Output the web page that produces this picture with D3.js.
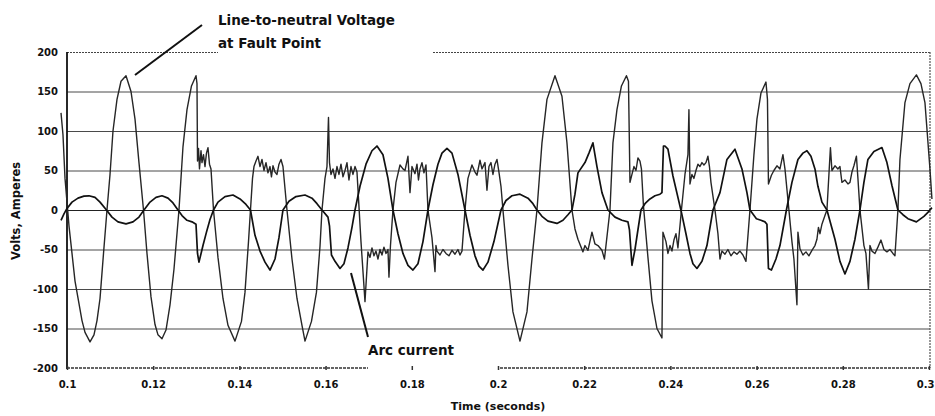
<!DOCTYPE html>
<html>
<head>
<meta charset="utf-8">
<script src="https://cdnjs.cloudflare.com/ajax/libs/d3/7.8.5/d3.min.js"></script>
<style>
  body { margin: 0; background: #fff; }
  svg { display: block; font-family: "DejaVu Sans", sans-serif; font-weight: bold; }
</style>
</head>
<body>
<svg width="935" height="416"></svg>
<script>
// line-to-neutral voltage at fault point: [time (s), volts]
const voltage = [
  [0.09861, 123], [0.09907, 95], [0.09954, 40], [0.10000, 10], [0.10046, -20],
  [0.10116, -55], [0.10186, -90], [0.10267, -115], [0.10348, -140], [0.10418, -155],
  [0.10534, -167], [0.10626, -158], [0.10696, -140], [0.10766, -112], [0.10847, -55],
  [0.10928, 0], [0.10998, 45], [0.11067, 100], [0.11160, 140], [0.11253, 163],
  [0.11369, 170], [0.11485, 150], [0.11578, 115], [0.11670, 60], [0.11775, 0],
  [0.11856, -55], [0.11949, -110], [0.12042, -145], [0.12111, -158], [0.12204, -163],
  [0.12297, -152], [0.12390, -120], [0.12482, -75], [0.12598, 0], [0.12691, 80],
  [0.12784, 127], [0.12888, 157], [0.12993, 170], [0.13016, 160], [0.13028, 62],
  [0.13051, 78], [0.13074, 52], [0.13109, 75], [0.13132, 60], [0.13167, 70],
  [0.13202, 55], [0.13236, 72], [0.13271, 79], [0.13306, 58], [0.13341, 52],
  [0.13399, 0], [0.13503, -60], [0.13619, -112], [0.13735, -146], [0.13898, -166],
  [0.14048, -141], [0.14130, -104], [0.14211, -40], [0.14257, 0], [0.14304, 40],
  [0.14338, 55], [0.14385, 62], [0.14431, 68], [0.14478, 55], [0.14524, 64],
  [0.14570, 50], [0.14617, 60], [0.14663, 47], [0.14710, 55], [0.14744, 42],
  [0.14779, 56], [0.14826, 48], [0.14872, 45], [0.14918, 58], [0.14965, 64],
  [0.15011, 55], [0.15104, 0], [0.15220, -62], [0.15336, -112], [0.15452, -146],
  [0.15522, -166], [0.15672, -141], [0.15788, -104], [0.15870, -46], [0.15916, 0],
  [0.15986, 40], [0.16032, 55], [0.16067, 117], [0.16090, 60], [0.16125, 45],
  [0.16171, 52], [0.16218, 40], [0.16264, 55], [0.16310, 45], [0.16357, 58],
  [0.16403, 42], [0.16450, 50], [0.16496, 60], [0.16542, 38], [0.16589, 55],
  [0.16635, 45], [0.16682, 55], [0.16728, 48], [0.16821, -40], [0.16914, -116],
  [0.16983, -53], [0.17030, -60], [0.17076, -48], [0.17122, -58], [0.17169, -52],
  [0.17215, -62], [0.17262, -50], [0.17308, -57], [0.17354, -47], [0.17401, -55],
  [0.17447, -50], [0.17470, -85], [0.17505, -45], [0.17563, 0], [0.17633, 35],
  [0.17726, 57], [0.17795, 52], [0.17842, 50], [0.17911, 68], [0.17958, 22],
  [0.18004, 55], [0.18074, 46], [0.18120, 58], [0.18155, 38], [0.18190, 52],
  [0.18236, 60], [0.18282, 47], [0.18329, 57], [0.18375, 0], [0.18468, -35],
  [0.18538, -78], [0.18561, -45], [0.18584, -52], [0.18654, -57], [0.18723, -50],
  [0.18793, -55], [0.18862, -58], [0.18932, -51], [0.19002, -56], [0.19071, -50],
  [0.19118, -57], [0.19164, -52], [0.19234, 0], [0.19303, 40], [0.19396, 57],
  [0.19466, 48], [0.19512, 44], [0.19582, 63], [0.19628, 52], [0.19698, 60],
  [0.19744, 25], [0.19790, 55], [0.19837, 60], [0.19883, 45], [0.19930, 58],
  [0.19976, 64], [0.20022, 48], [0.20069, 30], [0.20115, 0], [0.20231, -70],
  [0.20347, -129], [0.20510, -166], [0.20672, -129], [0.20788, -62], [0.20904, 0],
  [0.21020, 85], [0.21136, 140], [0.21322, 170], [0.21484, 144], [0.21600, 85],
  [0.21716, 0], [0.21786, -24], [0.21855, -37], [0.21971, -53], [0.22018, -45],
  [0.22087, -51], [0.22180, -28], [0.22250, -43], [0.22319, -45], [0.22412, -51],
  [0.22470, -62], [0.22598, 0], [0.22667, 85], [0.22760, 127], [0.22864, 157],
  [0.22980, 170], [0.23027, 163], [0.23062, 35], [0.23108, 45], [0.23154, 55],
  [0.23201, 50], [0.23247, 66], [0.23294, 62], [0.23328, 52], [0.23375, 5],
  [0.23479, -60], [0.23572, -115], [0.23688, -150], [0.23804, -162], [0.23827, -28],
  [0.23897, -40], [0.23943, -55], [0.23990, -45], [0.24036, -52], [0.24082, -38],
  [0.24129, -30], [0.24175, -48], [0.24256, 0], [0.24338, 45], [0.24407, 70],
  [0.24430, 127], [0.24454, 33], [0.24500, 45], [0.24546, 40], [0.24593, 50],
  [0.24639, 58], [0.24686, 55], [0.24732, 60], [0.24778, 57], [0.24825, 60],
  [0.24871, 68], [0.24906, 55], [0.24941, 35], [0.25034, 0], [0.25103, -30],
  [0.25150, -62], [0.25196, -52], [0.25266, -56], [0.25335, -50], [0.25405, -58],
  [0.25474, -53], [0.25544, -56], [0.25614, -52], [0.25683, -57], [0.25753, -65],
  [0.25846, 0], [0.25938, 70], [0.26008, 115], [0.26101, 148], [0.26217, 162],
  [0.26252, 140], [0.26275, 33], [0.26344, 44], [0.26402, 50], [0.26472, 56],
  [0.26542, 52], [0.26611, 70], [0.26658, 52], [0.26750, 0], [0.26820, -40],
  [0.26866, -62], [0.26936, -120], [0.26959, -28], [0.27006, -49], [0.27075, -57],
  [0.27145, -53], [0.27214, -58], [0.27284, -51], [0.27354, -45], [0.27400, -37],
  [0.27435, -22], [0.27470, -30], [0.27516, -18], [0.27586, -7], [0.27632, 0],
  [0.27678, 45], [0.27713, 79], [0.27748, 50], [0.27818, 56], [0.27887, 52],
  [0.27934, 55], [0.27980, 35], [0.28050, 38], [0.28119, 33], [0.28166, 35],
  [0.28212, 48], [0.28258, 56], [0.28316, 68], [0.28351, 40], [0.28398, 0],
  [0.28490, -45], [0.28537, -55], [0.28595, -100], [0.28630, -45], [0.28676, -52],
  [0.28746, -55], [0.28815, -47], [0.28885, -38], [0.28954, -50], [0.29024, -53],
  [0.29094, -50], [0.29163, -55], [0.29210, -58], [0.29279, 0], [0.29326, 64],
  [0.29442, 136], [0.29558, 160], [0.29708, 171], [0.29813, 160], [0.29906, 136],
  [0.30022, 52], [0.30068, 14]
];

// arc current: [time (s), amperes]
const arcCurrent = [
  [0.09861, -13], [0.09930, -5], [0.10000, 2], [0.10116, 10], [0.10255, 15],
  [0.10394, 17.5], [0.10510, 18], [0.10650, 16], [0.10766, 10], [0.10916, 0],
  [0.11044, -9], [0.11183, -15], [0.11369, -17.6], [0.11531, -15], [0.11670, -9],
  [0.11786, 0], [0.11926, 10], [0.12065, 16], [0.12204, 18], [0.12343, 15],
  [0.12459, 9], [0.12575, 0], [0.12668, -7], [0.12784, -13], [0.12900, -15],
  [0.12993, -18], [0.13028, -55], [0.13062, -66], [0.13155, -45], [0.13236, -28],
  [0.13318, -12], [0.13399, 0], [0.13503, 10], [0.13666, 17], [0.13851, 19],
  [0.14014, 14], [0.14153, 7], [0.14257, 0], [0.14362, -32], [0.14478, -52],
  [0.14594, -66], [0.14710, -76], [0.14826, -62], [0.14918, -35], [0.15011, 0],
  [0.15150, 11], [0.15313, 17], [0.15522, 19], [0.15684, 15], [0.15800, 8],
  [0.15916, 0], [0.16055, -9], [0.16090, -20], [0.16136, -57], [0.16218, -65],
  [0.16334, -74], [0.16426, -68], [0.16519, -48], [0.16612, -22], [0.16682, 0],
  [0.16798, 30], [0.16937, 58], [0.17076, 75], [0.17192, 81], [0.17331, 70],
  [0.17447, 40], [0.17563, 0], [0.17679, -30], [0.17795, -55], [0.17911, -70],
  [0.18027, -76], [0.18143, -68], [0.18259, -40], [0.18375, 0], [0.18491, 32],
  [0.18607, 58], [0.18700, 72], [0.18816, 78], [0.18932, 72], [0.19071, 45],
  [0.19234, 0], [0.19350, -32], [0.19466, -58], [0.19558, -71], [0.19651, -76],
  [0.19767, -66], [0.19906, -40], [0.20069, 0], [0.20185, 12], [0.20324, 18],
  [0.20510, 20], [0.20695, 15], [0.20811, 8], [0.20904, 0], [0.21020, -8],
  [0.21159, -14], [0.21368, -17], [0.21507, -13], [0.21623, -6], [0.21716, 0],
  [0.21786, 20], [0.21855, 47], [0.22018, 60], [0.22110, 72], [0.22203, 85],
  [0.22296, 55], [0.22412, 22], [0.22551, 0], [0.22714, -9], [0.22876, -13],
  [0.23015, -15], [0.23050, -25], [0.23108, -70], [0.23178, -50], [0.23247, -25],
  [0.23317, 0], [0.23410, 8], [0.23526, 14], [0.23642, 18], [0.23758, 20],
  [0.23804, 22], [0.23839, 81], [0.23874, 81], [0.23943, 77], [0.24059, 43],
  [0.24256, -3], [0.24361, -30], [0.24454, -55], [0.24523, -68], [0.24616, -74],
  [0.24732, -65], [0.24848, -45], [0.24987, 0], [0.25150, 22], [0.25312, 64],
  [0.25498, 77], [0.25660, 52], [0.25776, 22], [0.25846, 0], [0.25996, -11],
  [0.26101, -13], [0.26194, -15], [0.26240, -18], [0.26275, -74], [0.26344, -76],
  [0.26449, -62], [0.26542, -45], [0.26692, 0], [0.26820, 35], [0.26959, 64],
  [0.27075, 72], [0.27168, 75], [0.27261, 68], [0.27354, 52], [0.27423, 30],
  [0.27516, 10], [0.27632, 0], [0.27818, -37], [0.27934, -65], [0.28050, -81],
  [0.28166, -65], [0.28282, -37], [0.28398, 0], [0.28490, 35], [0.28583, 64],
  [0.28722, 74], [0.28908, 79], [0.29024, 60], [0.29140, 31], [0.29279, 0],
  [0.29395, -6], [0.29511, -11], [0.29708, -15], [0.29882, -8], [0.29975, -3],
  [0.30068, 3]
];

const yTicks = [-200, -150, -100, -50, 0, 50, 100, 150, 200];
const yTickLabels = ["-200", "-150", "-100", "-50", "0", "50", "100", "150", "200"];
const xTicks = [0.1, 0.12, 0.14, 0.16, 0.18, 0.2, 0.22, 0.24, 0.26, 0.28, 0.3];
const xTickLabels = ["0.1", "0.12", "0.14", "0.16", "0.18", "0.2", "0.22", "0.24", "0.26", "0.28", "0.3"];

const svg = d3.select("svg"),
    width = +svg.attr("width"),
    height = +svg.attr("height");
const margin = { top: 52, right: 6, bottom: 48, left: 67 };
const x0 = margin.left, x1 = width - margin.right;
const yTop = margin.top, yBot = height - margin.bottom;

const x = d3.scaleLinear().domain([0.1, 0.3]).range([x0, x1]);
const y = d3.scaleLinear().domain([-200, 200]).range([yBot, yTop]);

// inner gridlines
svg.append("g")
    .selectAll("line")
    .data(yTicks.filter(d => d > -200 && d < 200))
    .enter()
    .append("line")
    .attr("x1", x0).attr("x2", x1 + 1)
    .attr("y1", d => y(d) + 0.5).attr("y2", d => y(d) + 0.5)
    .style("stroke", d => d === 0 ? "#222" : "#4a4a4a")
    .style("stroke-width", 1);

// top frame line, broken where the voltage label sits
[[x0, 218], [433, x1 + 1]].forEach(s => {
    svg.append("line")
        .attr("x1", s[0]).attr("x2", s[1])
        .attr("y1", y(200) + 0.5).attr("y2", y(200) + 0.5)
        .style("stroke", "#444").style("stroke-width", 1.2)
        .style("stroke-dasharray", "2,1");
});

// right frame line
svg.append("line")
    .attr("x1", x1 + 1).attr("x2", x1 + 1)
    .attr("y1", yTop).attr("y2", yBot)
    .style("stroke", "#555").style("stroke-width", 1.2)
    .style("stroke-dasharray", "2,1");

// x axis line, broken under the arc current label
[[x0, 368], [500, x1 + 1]].forEach(s => {
    svg.append("line")
        .attr("x1", s[0]).attr("x2", s[1])
        .attr("y1", yBot).attr("y2", yBot)
        .style("stroke", "#333").style("stroke-width", 1.4)
        .style("stroke-dasharray", "3,1");
});

// y axis line
svg.append("line")
    .attr("x1", x0).attr("x2", x0)
    .attr("y1", yTop).attr("y2", yBot + 1)
    .style("stroke", "#111").style("stroke-width", 1.8);

// traces
const line = d3.line()
    .x(d => x(d[0]))
    .y(d => y(d[1]));

svg.append("path")
    .datum(voltage)
    .attr("d", line)
    .style("fill", "none")
    .style("stroke", "#262626")
    .style("stroke-width", 1.4)
    .style("stroke-linejoin", "round");

svg.append("path")
    .datum(arcCurrent)
    .attr("d", line)
    .style("fill", "none")
    .style("stroke", "#111")
    .style("stroke-width", 1.7)
    .style("stroke-linejoin", "round");

// y axis labels
const yAxis = svg.append("g")
    .attr("transform", `translate(${x0},0)`)
    .call(d3.axisLeft(y).tickValues(yTicks)
        .tickFormat((d, i) => yTickLabels[i])
        .tickSize(0).tickPadding(9));
yAxis.select(".domain").remove();
yAxis.selectAll("text")
    .style("font-family", "'DejaVu Sans', sans-serif")
    .style("font-weight", "bold")
    .style("font-size", "10px")
    .style("fill", "#111");

// x axis labels and small tick marks
const xAxis = svg.append("g")
    .attr("transform", `translate(0,${yBot})`)
    .call(d3.axisBottom(x).tickValues(xTicks)
        .tickFormat((d, i) => xTickLabels[i])
        .tickSize(2).tickPadding(11));
xAxis.select(".domain").remove();
xAxis.selectAll(".tick line")
    .attr("y1", -2)
    .style("stroke", "#333")
    .style("stroke-width", 1.5);
xAxis.selectAll("text")
    .style("font-family", "'DejaVu Sans', sans-serif")
    .style("font-weight", "bold")
    .style("font-size", "10px")
    .style("fill", "#111");
// last label sits at the window edge: keep it inside
xAxis.selectAll(".tick text")
    .filter(d => d === 0.3)
    .attr("text-anchor", "end")
    .attr("x", 5);

// axis titles
svg.append("text")
    .attr("x", 498)
    .attr("y", 410)
    .attr("text-anchor", "middle")
    .style("font-size", "11px")
    .style("fill", "#111")
    .text("Time (seconds)");

svg.append("text")
    .attr("transform", "translate(20,211) rotate(-90)")
    .attr("text-anchor", "middle")
    .style("font-size", "11.5px")
    .style("fill", "#111")
    .text("Volts, Amperes");

// annotations
svg.append("text")
    .attr("x", 218).attr("y", 25)
    .style("font-size", "13.5px")
    .style("fill", "#111")
    .text("Line-to-neutral Voltage");
svg.append("text")
    .attr("x", 218).attr("y", 48)
    .style("font-size", "13.5px")
    .style("fill", "#111")
    .text("at Fault Point");
svg.append("line")
    .attr("x1", 202).attr("y1", 25)
    .attr("x2", 135).attr("y2", 75)
    .style("stroke", "#111").style("stroke-width", 2);

svg.append("text")
    .attr("x", 368).attr("y", 355)
    .style("font-size", "13.5px")
    .style("fill", "#111")
    .text("Arc current");
svg.append("line")
    .attr("x1", 351).attr("y1", 273)
    .attr("x2", 368).attr("y2", 337)
    .style("stroke", "#111").style("stroke-width", 2);
</script>
</body>
</html>
